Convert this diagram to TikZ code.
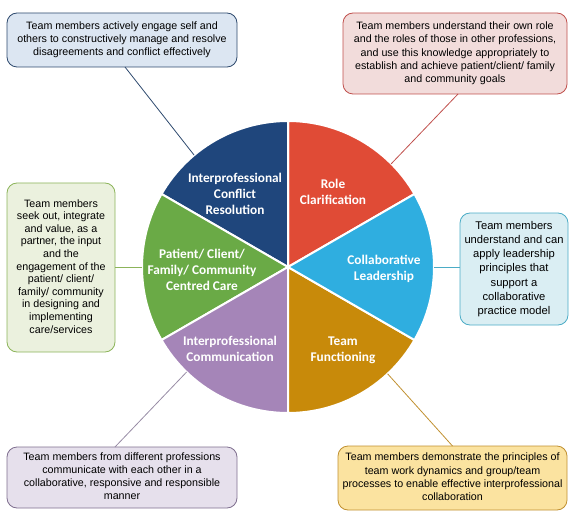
\documentclass[tikz,border=0pt]{standalone}
\usepackage{fontspec}
\setmainfont{Liberation Sans}
\newfontfamily\pief{Carlito}
\usetikzlibrary{calc}
\definecolor{sDB}{HTML}{1F467C}
\definecolor{sRD}{HTML}{E04B36}
\definecolor{sLB}{HTML}{2FAEE0}
\definecolor{sOR}{HTML}{C88A0A}
\definecolor{sPU}{HTML}{A585B8}
\definecolor{sGR}{HTML}{6AAA46}
\definecolor{fDB}{HTML}{DCE6F2}
\definecolor{fRD}{HTML}{F2DCDB}
\definecolor{fGR}{HTML}{EBF1DE}
\definecolor{fLB}{HTML}{DAEEF3}
\definecolor{fPU}{HTML}{E6E0EC}
\definecolor{fOR}{HTML}{FBE3A0}
\definecolor{bDB}{HTML}{2E4A6E}
\definecolor{bRD}{HTML}{C0504D}
\definecolor{bGR}{HTML}{8CB45A}
\definecolor{bLB}{HTML}{4BACC6}
\definecolor{bPU}{HTML}{7F6F8F}
\definecolor{bOR}{HTML}{C09030}
\newcommand{\ctext}[1]{\begin{tabular}{@{}c@{}}#1\end{tabular}}
\begin{document}
\begin{tikzpicture}[x=1pt,y=1pt,
  infobox/.style={draw, rounded corners=10pt, line width=0.8pt,
    inner sep=0pt, outer sep=0pt, font=\fontsize{10.7}{13.2}\selectfont},
  slice/.style={draw=white, line width=2pt},
  slicelabel/.style={text=white, align=center, font=\pief\bfseries\fontsize{13.3}{16}\selectfont},
  conn/.style={line width=0.8pt}]
\useasboundingbox (0,0) rectangle (572,512);
\coordinate (c) at (288,245);
\node[circle, minimum size=292pt, inner sep=0pt, outer sep=0pt] (pie) at (c) {};
% slices
\fill[sRD, slice] (c) -- ++(30:146) arc (30:90:146) -- cycle;
\fill[sDB, slice] (c) -- ++(90:146) arc (90:150:146) -- cycle;
\fill[sGR, slice] (c) -- ++(150:146) arc (150:210:146) -- cycle;
\fill[sPU, slice] (c) -- ++(210:146) arc (210:270:146) -- cycle;
\fill[sOR, slice] (c) -- ++(270:146) arc (270:330:146) -- cycle;
\fill[sLB, slice] (c) -- ++(-30:146) arc (-30:30:146) -- cycle;
% slice labels
\node[slicelabel] (lDB) at (235,317) {\ctext{Interprofessional\\Conflict\\Resolution}};
\node[slicelabel] (lRD) at (333,319) {\ctext{Role\\Clarification}};
\node[slicelabel] (lLB) at (384,243) {\ctext{Collaborative\\Leadership}};
\node[slicelabel] (lOR) at (343,162) {\ctext{Team\\Functioning}};
\node[slicelabel] (lPU) at (230,162) {\ctext{Interprofessional\\Communication}};
\node[slicelabel] (lGR) at (202,241) {\ctext{Patient/ Client/\\Family/ Community\\Centred Care}};
% boxes
\node[infobox, draw=bDB, fill=fDB, minimum width=230pt, minimum height=54pt] (b1) at (122,472)
  {\ctext{Team members actively engage self and\\others to constructively manage and resolve\\disagreements and conflict effectively}};
\node[infobox, draw=bRD, fill=fRD, minimum width=224pt, minimum height=81pt] (b2) at (455,458.5)
  {\ctext{Team members understand their own role\\and the roles of those in other professions,\\and use this knowledge appropriately to\\establish and achieve patient/client/ family\\and community goals}};
\node[infobox, draw=bGR, fill=fGR, minimum width=108pt, minimum height=169pt,
  font=\fontsize{10.7}{12.6}\selectfont] (b3) at (61,244.5)
  {\ctext{Team members\\seek out, integrate\\and value, as a\\partner, the input\\and the\\engagement of the\\patient/ client/\\family/ community\\in designing and\\implementing\\care/services}};
\node[infobox, draw=bLB, fill=fLB, minimum width=108pt, minimum height=112pt,
  font=\fontsize{11.2}{14.2}\selectfont] (b4) at (514,243)
  {\ctext{Team members\\understand and can\\apply leadership\\principles that\\support a\\collaborative\\practice model}};
\node[infobox, draw=bPU, fill=fPU, minimum width=230pt, minimum height=61pt] (b5) at (122,34.5)
  {\ctext{Team members from different professions\\communicate with each other in a\\collaborative, responsive and responsible\\manner}};
\node[infobox, draw=bOR, fill=fOR, minimum width=229pt, minimum height=64pt] (b6) at (452.5,34)
  {\ctext{Team members demonstrate the principles of\\team work dynamics and group/team\\processes to enable effective interprofessional\\collaboration}};
% connectors
\draw[conn, bDB] (pie.130) -- ($(b1.south)+(3,0)$);
\draw[conn, bRD] (pie.45.5) -- ($(b2.south)+(3,0)$);
\draw[conn, bLB] (pie.east) -- (pie.east -| b4.west);
\draw[conn, bOR] (pie.-47) -- (b6.north);
\draw[conn, bPU!80] (pie.226) -- ($(b5.north)+(-7,0)$);
\draw[conn, bGR] (pie.west) -- (pie.west -| b3.east);
\end{tikzpicture}
\end{document}
